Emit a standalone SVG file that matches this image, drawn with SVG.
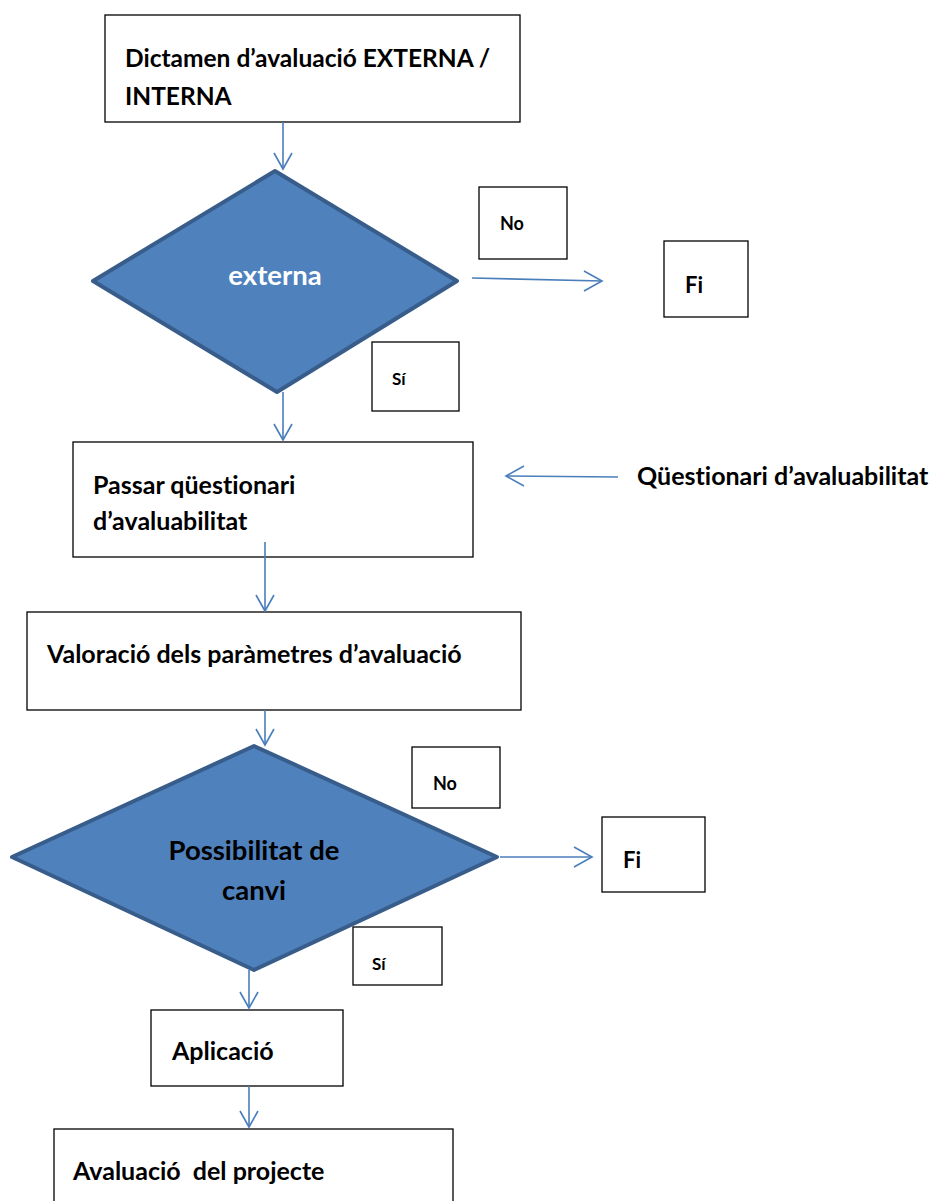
<svg xmlns="http://www.w3.org/2000/svg" width="936" height="1201" viewBox="0 0 936 1201">
<style>
.box{fill:#fff;stroke:#000;stroke-width:1.3}
.dia{fill:#4f81bd;stroke:#385d8a;stroke-width:4;stroke-linejoin:round}
.t{font-family:Lato,"Open Sans","Liberation Sans",sans-serif;font-weight:bold;fill:#000;font-variant-ligatures:none}
.conn line{stroke:#4a7ebb;stroke-width:1.6;fill:none}
.conn path{stroke:#4a7ebb;stroke-width:1.6;fill:none}
</style>
<rect width="936" height="1201" fill="#fff"/>
<g id="n-dictamen">
<rect class="box" x="105" y="15" width="415" height="107"/>
<text class="t" x="125" y="67" font-size="24.5">Dictamen d’avaluació EXTERNA /</text>
<text class="t" x="125" y="105" font-size="24.5">INTERNA</text>
</g>
<g id="n-externa">
<polygon class="dia" points="275,171 457,281 277,392 93,281"/>
<text class="t" x="275" y="285" font-size="27.5" text-anchor="middle" style="fill:#fff">externa</text>
</g>
<g id="n-no1">
<rect class="box" x="479" y="187" width="88" height="72"/>
<text class="t" x="500" y="230" font-size="18">No</text>
</g>
<g id="n-fi1">
<rect class="box" x="664" y="241" width="84" height="76"/>
<text class="t" x="685" y="293" font-size="22">Fi</text>
</g>
<g id="n-si1">
<rect class="box" x="372" y="342" width="87" height="69"/>
<text class="t" x="392" y="385" font-size="17">Sí</text>
</g>
<g id="n-passar">
<rect class="box" x="73" y="442" width="400" height="115"/>
<text class="t" x="93" y="494" font-size="25">Passar qüestionari</text>
<text class="t" x="93" y="530" font-size="25">d’avaluabilitat</text>
</g>
<g id="n-questionari">
<text class="t" x="637" y="485" font-size="25">Qüestionari d’avaluabilitat</text>
</g>
<g id="n-valoracio">
<rect class="box" x="27" y="612" width="494" height="98"/>
<text class="t" x="47" y="663" font-size="25">Valoració dels paràmetres d’avaluació</text>
</g>
<g id="n-possibilitat">
<polygon class="dia" points="254,746 497,857 254,970 12,857"/>
<text class="t" x="254" y="860" font-size="27.5" text-anchor="middle">Possibilitat de</text>
<text class="t" x="254" y="900" font-size="27.5" text-anchor="middle">canvi</text>
</g>
<g id="n-no2">
<rect class="box" x="412" y="747" width="88" height="61"/>
<text class="t" x="433" y="790" font-size="18">No</text>
</g>
<g id="n-fi2">
<rect class="box" x="602" y="817" width="103" height="75"/>
<text class="t" x="623" y="868" font-size="22">Fi</text>
</g>
<g id="n-si2">
<rect class="box" x="353" y="927" width="89" height="58"/>
<text class="t" x="372" y="970" font-size="17">Sí</text>
</g>
<g id="n-aplicacio">
<rect class="box" x="151" y="1010" width="192" height="76"/>
<text class="t" x="172" y="1060" font-size="25">Aplicació</text>
</g>
<g id="n-avaluacio">
<rect class="box" x="54" y="1129" width="399" height="90"/>
<text class="t" x="73" y="1180" font-size="25" xml:space="preserve">Avaluació  del projecte</text>
</g>
<g id="connectors" class="conn">
<line x1="283" y1="122" x2="283" y2="169"/><path d="M274,153 L283,169 L292,153"/>
<line x1="472" y1="278" x2="602" y2="281"/><path d="M584,271 L602,281 L584,291"/>
<line x1="283" y1="392" x2="283" y2="440"/><path d="M274,424 L283,440 L292,424"/>
<line x1="618" y1="477" x2="506" y2="476"/><path d="M524,466 L506,476 L524,486"/>
<line x1="265" y1="542" x2="265" y2="611"/><path d="M256,595 L265,611 L274,595"/>
<line x1="265" y1="710" x2="265" y2="745"/><path d="M256,729 L265,745 L274,729"/>
<line x1="500" y1="857" x2="592" y2="857"/><path d="M574,847 L592,857 L574,867"/>
<line x1="249" y1="970" x2="249" y2="1008"/><path d="M240,992 L249,1008 L258,992"/>
<line x1="249" y1="1086" x2="249" y2="1127"/><path d="M240,1111 L249,1127 L258,1111"/>
</g>
</svg>
